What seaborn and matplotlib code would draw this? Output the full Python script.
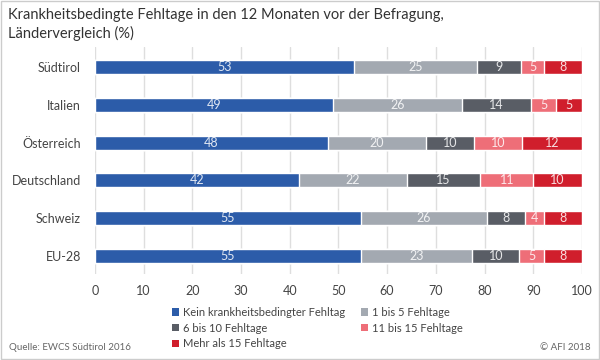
import matplotlib.pyplot as plt
import numpy as np
import pandas as pd
import seaborn as sns
from matplotlib.patches import Patch, Rectangle

# Data (shares in %)
countries = ['Südtirol', 'Italien', 'Österreich', 'Deutschland', 'Schweiz', 'EU-28']
categories = ['Kein krankheitsbedingter Fehltag', '1 bis 5 Fehltage', '6 bis 10 Fehltage',
              '11 bis 15 Fehltage', 'Mehr als 15 Fehltage']
kein = [53.2, 48.9, 47.9, 41.9, 54.6, 54.6]
tage_1_5 = [25.2, 26.5, 20.1, 22.1, 25.8, 22.9]
tage_6_10 = [9.1, 14.1, 9.8, 15.1, 8.0, 9.6]
tage_11_15 = [4.7, 5.2, 9.9, 10.9, 3.7, 5.1]
tage_15plus = [7.8, 5.3, 12.3, 10.0, 8.0, 7.8]
labels = [[53, 49, 48, 42, 55, 55],
          [25, 26, 20, 22, 26, 23],
          [9, 14, 10, 15, 8, 10],
          [5, 5, 10, 11, 4, 5],
          [8, 5, 12, 10, 8, 8]]

colors = ['#2c5ca9', '#a3a9b1', '#595d65', '#ee6e78', '#d01e2c']

df = pd.DataFrame({'land': countries, categories[0]: kein, categories[1]: tage_1_5,
                   categories[2]: tage_6_10, categories[3]: tage_11_15, categories[4]: tage_15plus})
cum = df[categories].cumsum(axis=1)

sns.set_theme(style='white')
plt.rcParams['font.family'] = ['Lato', 'DejaVu Sans']

fig = plt.figure(figsize=(6, 3.6), dpi=100)
ax = fig.add_axes([0.158, 0.239, 0.812, 0.63])

# stacked bars: draw cumulative totals from the longest to the shortest
for i in range(len(categories) - 1, -1, -1):
    sns.barplot(x=cum[categories[i]], y=df['land'], orient='h', color=colors[i],
                width=0.37, saturation=1, ax=ax, zorder=2)

for i, cat in enumerate(categories):
    centers = cum[cat] - df[cat] / 2
    for j, c in enumerate(centers):
        ax.text(c, j, str(labels[i][j]), ha='center', va='center', fontsize=9,
                color='white', alpha=0.85, zorder=3)

ax.set_xlim(0, 100)
ax.set_ylim(5.48, -0.53)
ax.set_xticks(range(0, 101, 10))
ax.grid(axis='x', color='#dedede', linewidth=1, zorder=0)
ax.set_axisbelow(True)
for s in ax.spines.values():
    s.set_visible(False)
ax.set_xlabel('')
ax.set_ylabel('')
ax.tick_params(axis='both', length=0, labelsize=9, labelcolor='#444444')
ax.tick_params(axis='y', pad=10)
ax.tick_params(axis='x', pad=8)

fig.text(8 / 600, 1 - 8 / 360, 'Krankheitsbedingte Fehltage in den 12 Monaten vor der Befragung,\nLändervergleich (%)',
         ha='left', va='top', fontsize=10.5, color='#333333', linespacing=1.35)

order = [0, 2, 4, 1, 3]
handles = [Patch(facecolor=colors[k], edgecolor='none') for k in order]
fig.legend(handles, [categories[k] for k in order], ncol=2, loc='upper left',
           bbox_to_anchor=(172 / 600, 1 - 307 / 360), frameon=False, fontsize=8,
           borderpad=0, borderaxespad=0,
           handlelength=0.65, handleheight=0.65, handletextpad=0.35, labelspacing=0.42,
           columnspacing=1.4, labelcolor='#444444')

fig.text(9 / 600, 1 - 348 / 360, 'Quelle: EWCS Südtirol 2016', ha='left', va='center',
         fontsize=7, color='#666666')
fig.text(591 / 600, 1 - 348 / 360, '© AFI 2018', ha='right', va='center',
         fontsize=7, color='#666666')

fig.patches.append(Rectangle((0.001, 0.002), 0.997, 0.996, transform=fig.transFigure,
                             fill=False, edgecolor='#cccccc', linewidth=1))

fig.savefig('out.png')
